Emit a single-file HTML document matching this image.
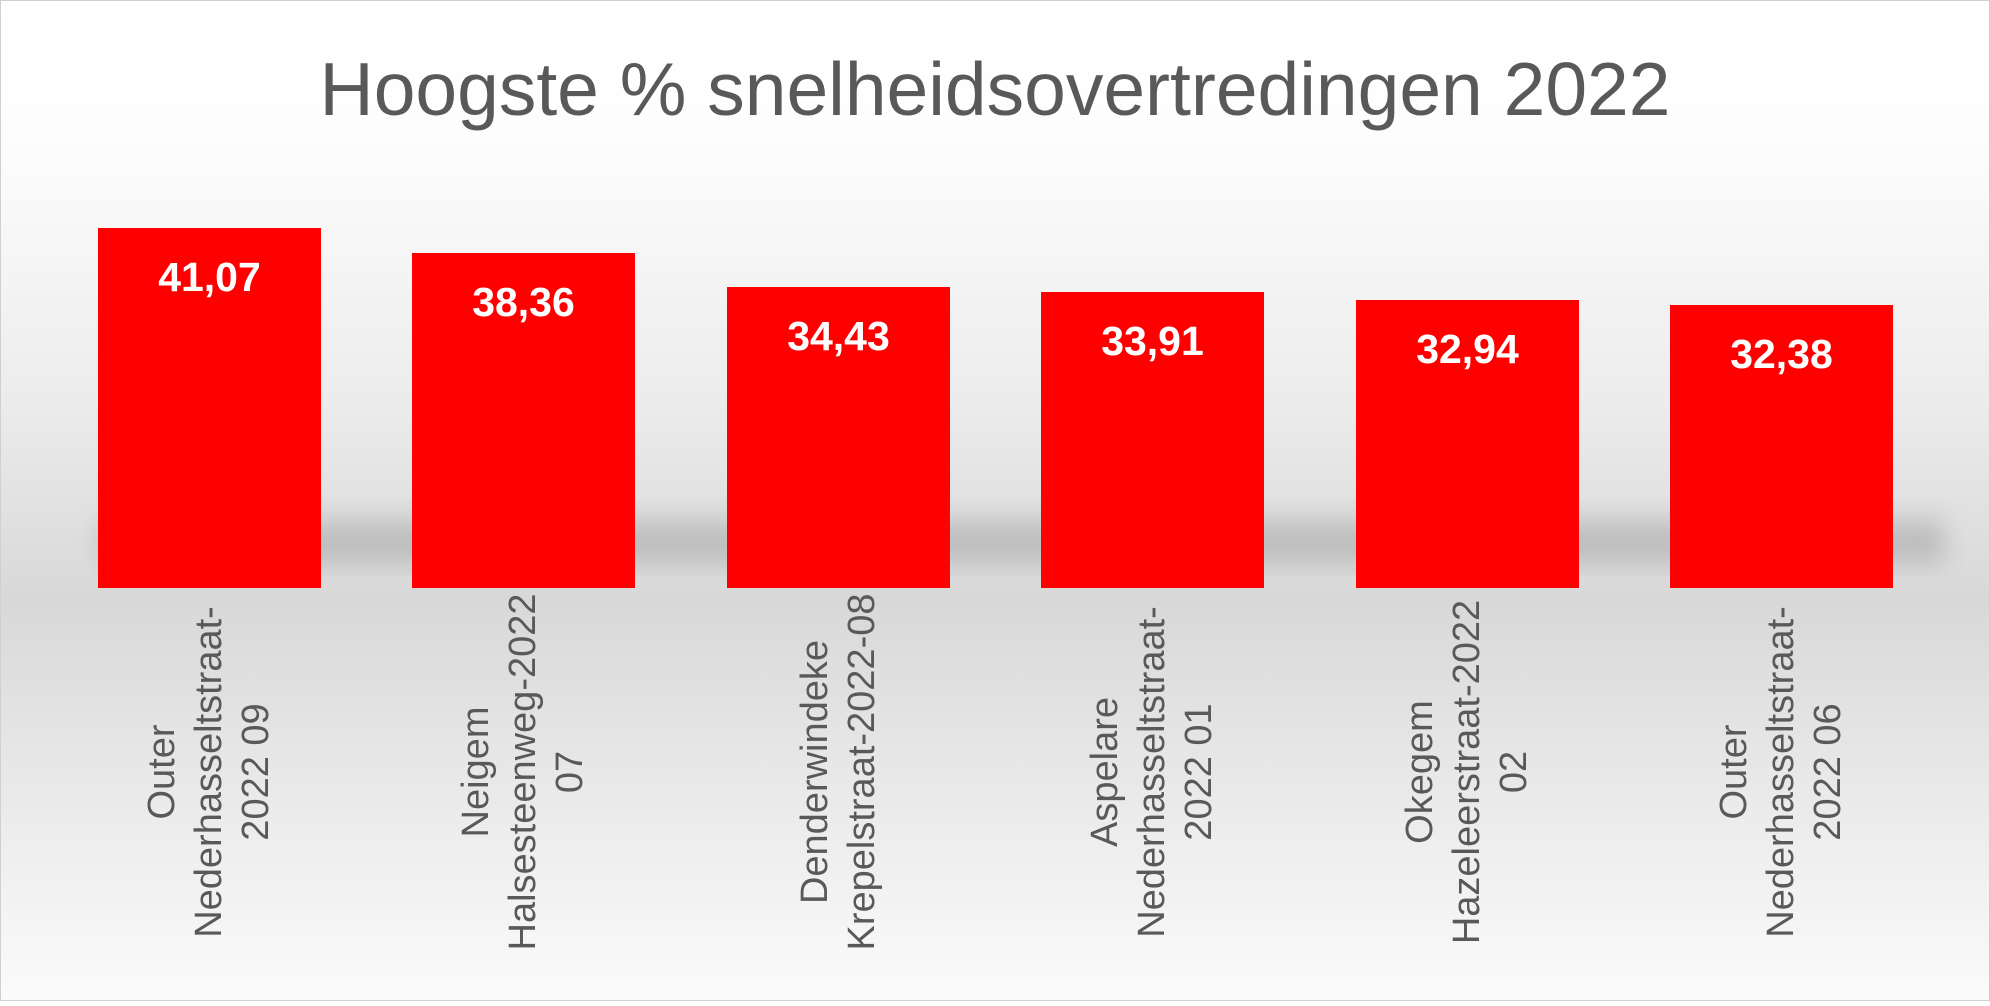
<!DOCTYPE html>
<html><head><meta charset="utf-8"><style>
html,body{margin:0;padding:0;}
body{width:1990px;height:1001px;overflow:hidden;font-family:"Liberation Sans",sans-serif;}
</style></head><body>
<svg width="1990" height="1001" viewBox="0 0 1990 1001" xmlns="http://www.w3.org/2000/svg">
<defs>
<linearGradient id="bg" x1="0" y1="0" x2="0" y2="1">
<stop offset="0" stop-color="#ffffff"/>
<stop offset="0.14" stop-color="#fdfdfd"/>
<stop offset="0.4" stop-color="#ececec"/>
<stop offset="0.6" stop-color="#d8d8d8"/>
<stop offset="0.75" stop-color="#e6e6e6"/>
<stop offset="1" stop-color="#fbfbfb"/>
</linearGradient>
<linearGradient id="sh" x1="0" y1="0" x2="0" y2="1">
<stop offset="0" stop-color="#999" stop-opacity="0"/>
<stop offset="0.6" stop-color="#999" stop-opacity="0.6"/>
<stop offset="1" stop-color="#aaa" stop-opacity="0.2"/>
</linearGradient>
<filter id="blur"><feGaussianBlur stdDeviation="12"/></filter>
</defs>
<rect x="0.5" y="0.5" width="1989" height="1000" fill="url(#bg)" stroke="#d0d0d0"/>
<rect x="100" y="505" width="1845" height="65" fill="url(#sh)" filter="url(#blur)"/>
<text x="995" y="115" text-anchor="middle" font-size="75" fill="#595959" font-family="Liberation Sans, sans-serif">Hoogste % snelheidsovertredingen 2022</text>
<g fill="#ff0000">
<rect x="98" y="228" width="223" height="360"/>
<rect x="412" y="253" width="223" height="335"/>
<rect x="727" y="287" width="223" height="301"/>
<rect x="1041" y="292" width="223" height="296"/>
<rect x="1356" y="300" width="223" height="288"/>
<rect x="1670" y="305" width="223" height="283"/>
</g>
<g fill="#fff" font-weight="bold" font-size="41" text-anchor="middle">
<text x="209.5" y="291">41,07</text>
<text x="523.5" y="316">38,36</text>
<text x="838.5" y="350">34,43</text>
<text x="1152.5" y="355">33,91</text>
<text x="1467.5" y="363">32,94</text>
<text x="1781.5" y="368">32,38</text>
</g>
<g fill="#595959" font-size="38" text-anchor="middle" dominant-baseline="central">
<text transform="translate(162,772) rotate(-90)">Outer</text>
<text transform="translate(209,772) rotate(-90)">Nederhasseltstraat-</text>
<text transform="translate(256,772) rotate(-90)">2022 09</text>
<text transform="translate(476,772) rotate(-90)">Neigem</text>
<text transform="translate(523,772) rotate(-90)">Halsesteenweg-2022</text>
<text transform="translate(570,772) rotate(-90)">07</text>
<text transform="translate(815,772) rotate(-90)">Denderwindeke</text>
<text transform="translate(862,772) rotate(-90)">Krepelstraat-2022-08</text>
<text transform="translate(1105,772) rotate(-90)">Aspelare</text>
<text transform="translate(1152,772) rotate(-90)">Nederhasseltstraat-</text>
<text transform="translate(1199,772) rotate(-90)">2022 01</text>
<text transform="translate(1420,772) rotate(-90)">Okegem</text>
<text transform="translate(1467,772) rotate(-90)">Hazeleerstraat-2022</text>
<text transform="translate(1514,772) rotate(-90)">02</text>
<text transform="translate(1734,772) rotate(-90)">Outer</text>
<text transform="translate(1781,772) rotate(-90)">Nederhasseltstraat-</text>
<text transform="translate(1828,772) rotate(-90)">2022 06</text>
</g>
</svg>
</body></html>
